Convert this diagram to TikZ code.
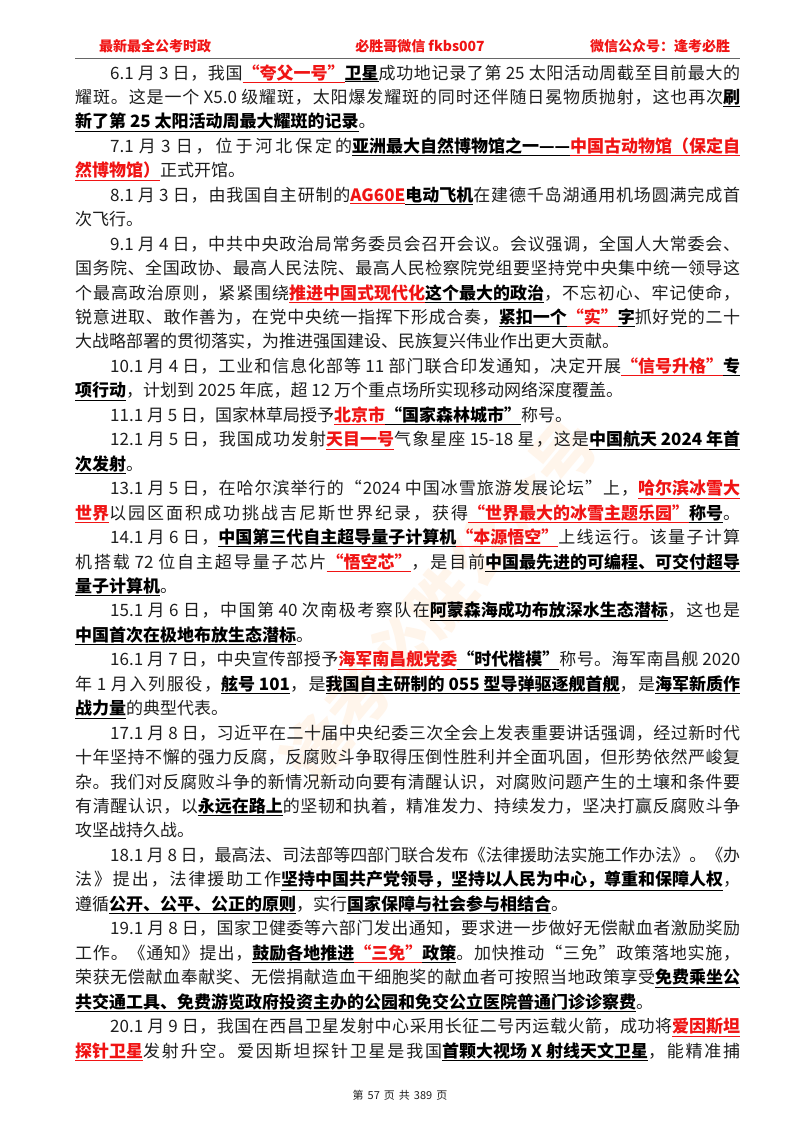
\documentclass[tikz,border=0pt]{standalone}
\usepackage{fontspec}
\setmainfont{Noto Sans CJK SC}
\XeTeXinterchartokenstate=1
\newcount\cjkc
\cjkc="4E00
\loop \XeTeXcharclass\cjkc=1 \advance\cjkc by 1 \ifnum\cjkc<"A000 \repeat
\cjkc="3000
\loop \XeTeXcharclass\cjkc=1 \advance\cjkc by 1 \ifnum\cjkc<"3040 \repeat
\cjkc="FF00
\loop \XeTeXcharclass\cjkc=1 \advance\cjkc by 1 \ifnum\cjkc<"FFF0 \repeat
\XeTeXcharclass"201C=1 \XeTeXcharclass"201D=1 \XeTeXcharclass"2014=1
\XeTeXinterchartoks 1 1 = {\hskip0pt plus 4pt minus 0.5pt}
\XeTeXinterchartoks 0 1 = {\hskip0pt plus 4pt minus 0.5pt}
\XeTeXinterchartoks 1 0 = {\hskip0pt plus 4pt minus 0.5pt}
\definecolor{hdred}{RGB}{240,20,20}
\definecolor{txt}{RGB}{30,30,30}
\newcommand\R[1]{\textcolor{hdred}{\bfseries\underline{#1}}}
\newcommand\B[1]{\textcolor{black}{\bfseries\underline{#1}}}
\newcommand\LJ[2]{\node[line] (l#1) at (75,{-79-(#1-1)*24.45}) {\hbox to 665pt{#2}};}
\newcommand\LI[2]{\node[line] (l#1) at (75,{-79-(#1-1)*24.45}) {\hbox to 665pt{\hskip35pt #2}};}
\newcommand\LN[2]{\node[line] (l#1) at (75,{-79-(#1-1)*24.45}) {\hbox{#2}};}
\begin{document}
\begin{tikzpicture}[x=1pt,y=1pt,
  line/.style={anchor=base west,inner sep=0pt,text=txt,font=\fontsize{17}{20}\selectfont},
  hdr/.style={anchor=base,inner sep=0pt,text=hdred,font=\fontsize{14}{16}\selectfont\bfseries}]
\useasboundingbox[fill=white] (0,0) rectangle (800,-1132);
\node[rotate=50,text=orange!8,font=\fontsize{64}{64}\selectfont\bfseries] (wm) at (440,-600) {逢考必胜公众号};
\node[hdr] (h1) at (155,-52) {最新最全公考时政};
\node[hdr] (h2) at (420,-52) {必胜哥微信 fkbs007};
\node[hdr] (h3) at (660,-52) {微信公众号：逢考必胜};
\draw[gray!80!black,line width=0.8pt] (75,-58) -- (740,-58);
\LI{1}{6.1 月 3 日，我国\R{“夸父一号”}\B{卫星}成功地记录了第 25 太阳活动周截至目前最大的}
\LJ{2}{耀斑。这是一个 X5.0 级耀斑，太阳爆发耀斑的同时还伴随日冕物质抛射，这也再次\B{刷}}
\LN{3}{\B{新了第 25 太阳活动周最大耀斑的记录}。}
\LI{4}{7.1 月 3 日，位于河北保定的\B{亚洲最大自然博物馆之一——}\R{中国古动物馆（保定自}}
\LN{5}{\R{然博物馆）}正式开馆。}
\LI{6}{8.1 月 3 日，由我国自主研制的\R{AG60E}\B{电动飞机}在建德千岛湖通用机场圆满完成首}
\LN{7}{次飞行。}
\LI{8}{9.1 月 4 日，中共中央政治局常务委员会召开会议。会议强调，全国人大常委会、}
\LJ{9}{国务院、全国政协、最高人民法院、最高人民检察院党组要坚持党中央集中统一领导这}
\LJ{10}{个最高政治原则，紧紧围绕\R{推进中国式现代化}\B{这个最大的政治}，不忘初心、牢记使命，}
\LJ{11}{锐意进取、敢作善为，在党中央统一指挥下形成合奏，\B{紧扣一个}\R{“实”}\B{字}抓好党的二十}
\LN{12}{大战略部署的贯彻落实，为推进强国建设、民族复兴伟业作出更大贡献。}
\LI{13}{10.1 月 4 日，工业和信息化部等 11 部门联合印发通知，决定开展\R{“信号升格”}\B{专}}
\LN{14}{\B{项行动}，计划到 2025 年底，超 12 万个重点场所实现移动网络深度覆盖。}
\LN{15}{\hskip35pt 11.1 月 5 日，国家林草局授予\R{北京市}\B{“国家森林城市”}称号。}
\LI{16}{12.1 月 5 日，我国成功发射\R{天目一号}气象星座 15-18 星，这是\B{中国航天 2024 年首}}
\LN{17}{\B{次发射}。}
\LI{18}{13.1 月 5 日，在哈尔滨举行的“2024 中国冰雪旅游发展论坛”上，\R{哈尔滨冰雪大}}
\LJ{19}{\R{世界}以园区面积成功挑战吉尼斯世界纪录，获得\R{“世界最大的冰雪主题乐园”}\B{称号}。}
\LI{20}{14.1 月 6 日，\B{中国第三代自主超导量子计算机}\R{“本源悟空”}上线运行。该量子计算}
\LJ{21}{机搭载 72 位自主超导量子芯片\R{“悟空芯”}，是目前\B{中国最先进的可编程、可交付超导}}
\LN{22}{\B{量子计算机}。}
\LI{23}{15.1 月 6 日，中国第 40 次南极考察队在\B{阿蒙森海成功布放深水生态潜标}，这也是}
\LN{24}{\B{中国首次在极地布放生态潜标}。}
\LI{25}{16.1 月 7 日，中央宣传部授予\R{海军南昌舰党委}\B{“时代楷模”}称号。海军南昌舰 2020}
\LJ{26}{年 1 月入列服役，\B{舷号 101}，是\B{我国自主研制的 055 型导弹驱逐舰首舰}，是\B{海军新质作}}
\LN{27}{\B{战力量}的典型代表。}
\LI{28}{17.1 月 8 日，习近平在二十届中央纪委三次全会上发表重要讲话强调，经过新时代}
\LJ{29}{十年坚持不懈的强力反腐，反腐败斗争取得压倒性胜利并全面巩固，但形势依然严峻复}
\LJ{30}{杂。我们对反腐败斗争的新情况新动向要有清醒认识，对腐败问题产生的土壤和条件要}
\LJ{31}{有清醒认识，以\B{永远在路上}的坚韧和执着，精准发力、持续发力，坚决打赢反腐败斗争}
\LN{32}{攻坚战持久战。}
\LI{33}{18.1 月 8 日，最高法、司法部等四部门联合发布《法律援助法实施工作办法》。《办}
\LJ{34}{法》提出，法律援助工作\B{坚持中国共产党领导，坚持以人民为中心，尊重和保障人权}，}
\LN{35}{遵循\B{公开、公平、公正的原则}，实行\B{国家保障与社会参与相结合}。}
\LI{36}{19.1 月 8 日，国家卫健委等六部门发出通知，要求进一步做好无偿献血者激励奖励}
\LJ{37}{工作。《通知》提出，\B{鼓励各地推进}\R{“三免”}\B{政策}。加快推动“三免”政策落地实施，}
\LJ{38}{荣获无偿献血奉献奖、无偿捐献造血干细胞奖的献血者可按照当地政策享受\B{免费乘坐公}}
\LN{39}{\B{共交通工具、免费游览政府投资主办的公园和免交公立医院普通门诊诊察费}。}
\LI{40}{20.1 月 9 日，我国在西昌卫星发射中心采用长征二号丙运载火箭，成功将\R{爱因斯坦}}
\LJ{41}{\R{探针卫星}发射升空。爱因斯坦探针卫星是我国\B{首颗大视场 X 射线天文卫星}，能精准捕}
\node[anchor=base,inner sep=0pt,text=txt,font=\fontsize{11}{13}\selectfont] (ft) at (400,-1099) {第\hspace{4pt}57\hspace{4pt}页\hspace{4pt}共\hspace{4pt}389\hspace{4pt}页};
\end{tikzpicture}
\end{document}
